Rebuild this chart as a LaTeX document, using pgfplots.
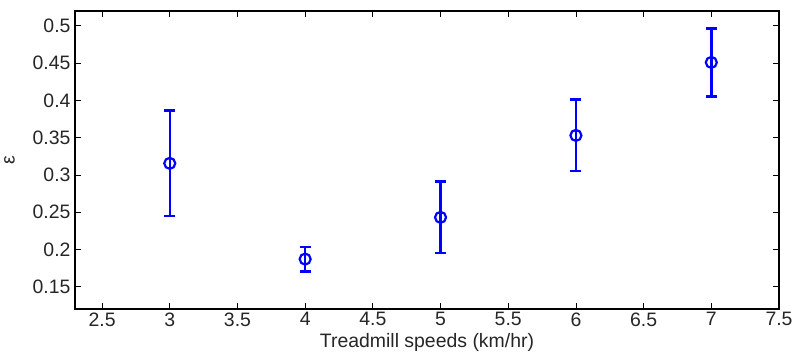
\documentclass[border=0pt]{standalone}
\usepackage{pgfplots}
\pgfplotsset{compat=1.18}
\usepackage{fontspec}
\setmainfont{Liberation Sans}
\definecolor{txt}{HTML}{262626}
\definecolor{mblue}{HTML}{0000FF}
\begin{document}
\begin{tikzpicture}
\begin{axis}[
  scale only axis,
  width=704bp, height=298bp,
  xmin=2.3, xmax=7.5, ymin=0.12, ymax=0.52,
  xtick={2.5,3,...,7.5},
  ytick={0.15,0.2,...,0.5},
  yticklabel style={/pgf/number format/fixed,/pgf/number format/precision=2, xshift=-1bp},
  xticklabel style={/pgf/number format/fixed,/pgf/number format/precision=1, yshift=0bp},
  /pgf/number format/assume math mode=true,
  tick align=inside,
  major tick length=6bp,
  tick style={line width=0.8bp, color=black},
  axis line style={line width=1.2bp, black},
  ticklabel style={font=\fontsize{19.5}{21}\selectfont, text=txt},
  xlabel={Treadmill speeds (km/hr)},
  ylabel={ε},
  label style={font=\fontsize{19.5}{21}\selectfont, text=txt},
  xlabel style={yshift=0bp},
  ylabel style={yshift=11bp},
]
\addplot+[mblue, only marks, mark=o, mark size=5.5bp, mark options={line width=2.2bp, mblue},
  error bars/.cd, y dir=both, y explicit,
  error bar style={line width=2.5bp, mblue},
  error mark options={rotate=90, mark size=5.5bp, line width=2.5bp, mblue}]
coordinates {
(3,0.3155) +- (0,0.071)
(4,0.187) +- (0,0.0165)
(5,0.243) +- (0,0.048)
(6,0.353) +- (0,0.048)
(7,0.451) +- (0,0.0455)
};
\end{axis}
\pgfresetboundingbox
\path (current axis.south west) ++(-75bp,-43bp) coordinate (bl);
\path (current axis.north east) ++(14bp,11bp) coordinate (tr);
\useasboundingbox (bl) rectangle (tr);
\end{tikzpicture}
\end{document}
